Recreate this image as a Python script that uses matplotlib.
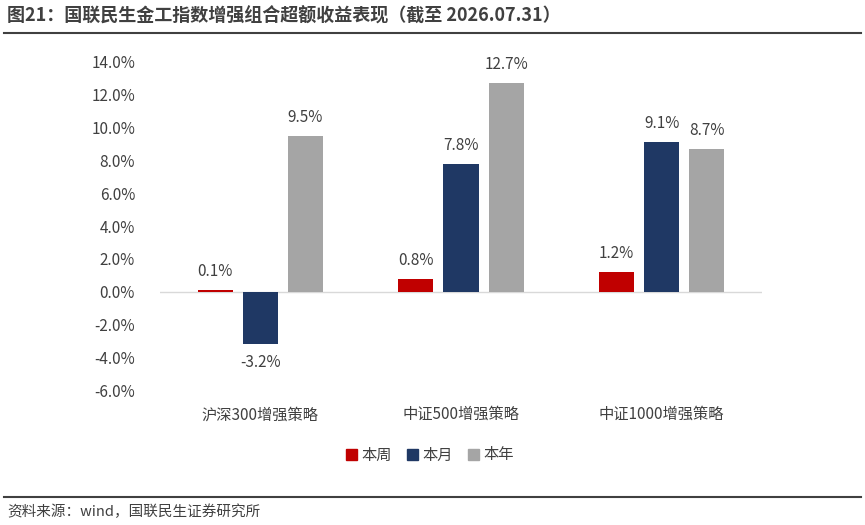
import matplotlib
matplotlib.use("Agg")
import matplotlib.pyplot as plt
import numpy as np
from matplotlib.lines import Line2D

plt.rcParams['font.family'] = ['Noto Sans CJK SC', 'DejaVu Sans']

categories = ["沪深300增强策略", "中证500增强策略", "中证1000增强策略"]
series_names = ["本周", "本月", "本年"]
week = [0.1, 0.8, 1.2]
month = [-3.2, 7.8, 9.1]
year = [9.5, 12.7, 8.7]
colors = ["#C00000", "#1F3864", "#A5A5A5"]
yticks = np.arange(-6, 15, 2)

fig = plt.figure(figsize=(8.65, 5.25), dpi=100)
ax = fig.add_axes([0.185, 0.257, 0.696, 0.625])
x = np.arange(len(categories))
w = 0.175
off = 0.225
for i, (vals, c, n) in enumerate(zip([week, month, year], colors, series_names)):
    xs = x + (i - 1) * off
    ax.bar(xs, vals, width=w, color=c, label=n, zorder=2)
    for xi, v in zip(xs, vals):
        if v >= 0:
            ax.text(xi, v + 0.6, f"{v:.1f}%", ha='center', va='bottom', fontsize=11, color='#404040')
        else:
            ax.text(xi, v - 0.6, f"{v:.1f}%", ha='center', va='top', fontsize=11, color='#404040')
ax.set_xlim(-0.5, 2.5)
ax.set_ylim(-6, 14)
ax.set_yticks(yticks)
ax.set_yticklabels([f"{t:.1f}%" for t in yticks], fontsize=11, color='#404040')
ax.set_xticks(x)
ax.set_xticklabels(categories, fontsize=11, color='#404040')
ax.tick_params(axis='both', length=0)
ax.tick_params(axis='y', pad=18)
ax.tick_params(axis='x', pad=110)
for s in ax.spines.values():
    s.set_visible(False)
ax.axhline(0, color='#D9D9D9', lw=1, zorder=1)
ax.xaxis.set_tick_params(pad=0)
for lbl in ax.get_xticklabels():
    lbl.set_y(0)
# position category labels below axes
ax.set_xticklabels([])
for xi, c in zip(x, categories):
    ax.text(xi, -7.5, c, ha='center', va='center', fontsize=11, color='#404040')

handles = [plt.Rectangle((0, 0), 1, 1, color=c) for c in colors]
fig.legend(handles, series_names, loc='center', bbox_to_anchor=(430/865, 1-455/525),
           ncol=3, frameon=False, fontsize=11, handlelength=0.7, handleheight=0.7,
           columnspacing=1.0, handletextpad=0.3, labelcolor='#404040')

fig.text(0.008, 1-16/525, "图21：国联民生金工指数增强组合超额收益表现（截至 2026.07.31）",
         fontsize=13, fontweight='bold', va='center', ha='left', color='#404040')
fig.add_artist(Line2D([0.005, 0.995], [1-33/525]*2, color='#404040', lw=1.5))
fig.add_artist(Line2D([0.005, 0.995], [1-497/525]*2, color='#404040', lw=1.5))
fig.text(0.008, 1-512/525, "资料来源：wind，国联民生证券研究所", fontsize=10.5, va='center', color='#404040')

fig.savefig("out.png", dpi=100)
